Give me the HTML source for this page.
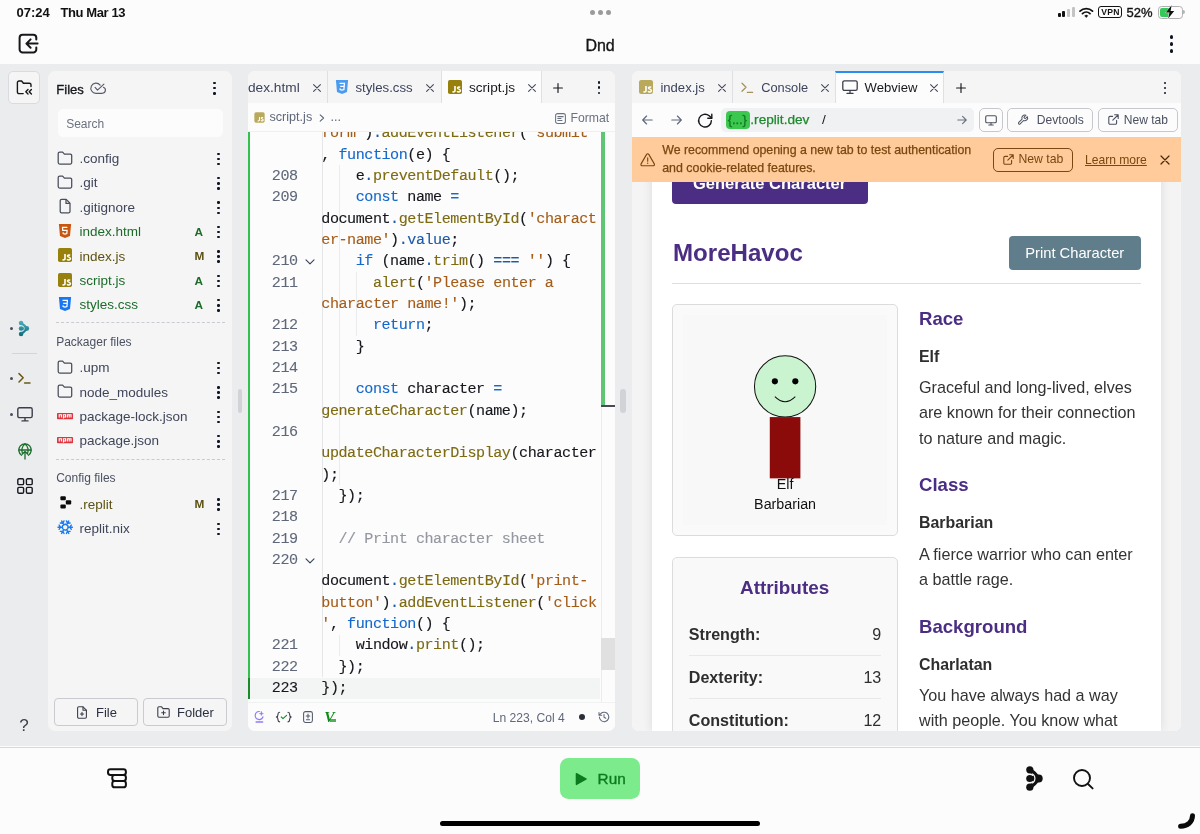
<!DOCTYPE html>
<html><head><meta charset="utf-8">
<style>
*{box-sizing:border-box;margin:0;padding:0}
html,body{width:1200px;height:834px;overflow:hidden;background:#fcfcfc;font-family:"Liberation Sans",sans-serif;color:#0e1525}
.abs{position:absolute}
#root{will-change:transform;position:relative;width:1200px;height:834px;overflow:hidden;background:#fcfcfc}
#ws{left:0;top:64px;width:1200px;height:682px;background:#ebeced}
#bottom{left:0;top:746px;width:1200px;height:88px;background:#fcfcfc;border-top:1px solid #d5d7da}
.t{position:absolute;white-space:nowrap;line-height:1}
svg{position:absolute;overflow:visible}
.md{-webkit-text-stroke:0.35px currentColor}
/* files panel */
#files{left:48px;top:71px;width:184px;height:660px;background:#f5f5f5;border-radius:7px}
.row{position:absolute;left:48px;width:184px;height:24px}
.row .nm{position:absolute;left:31.5px;top:4.5px;font-size:13.5px;line-height:15px;color:#40465a;white-space:nowrap}
.row .st{position:absolute;left:146.4px;top:5.4px;font-size:11.8px;font-weight:bold;line-height:14px}
.row svg.ic{left:9px;top:3.2px}
.kb{position:absolute;width:3px}
.kb i{position:absolute;left:0.05px;width:2.4px;height:2.4px;border-radius:50%;background:#0e1525}
.kb i:nth-child(1){top:0}.kb i:nth-child(2){top:5.1px}.kb i:nth-child(3){top:10.2px}
.g{color:#1c6b2a !important}.ol{color:#5c5212 !important}
.sec{position:absolute;left:56.2px;font-size:12px;line-height:15px;color:#4a5060;white-space:nowrap}
.dash{position:absolute;left:56px;width:169px;height:0;border-top:1px dashed #c9cbd1}
.btn{position:absolute;border:1px solid #c9cbd0;border-radius:4px;background:#f5f5f5}
/* editor */
#editor{left:248px;top:71px;width:367px;height:660px;background:#fcfcfc;border-radius:7px;overflow:hidden}
.code{position:absolute;left:74px;white-space:pre;-webkit-text-stroke:0.12px currentColor;font-family:"Liberation Mono",monospace;font-size:15.1px;letter-spacing:-0.46px;line-height:21.333px;color:#15171c}
.ln{position:absolute;left:0;width:50px;text-align:right;white-space:pre;-webkit-text-stroke:0.1px currentColor;font-family:"Liberation Mono",monospace;font-size:15.1px;letter-spacing:-0.46px;line-height:21.333px;color:#5f677a}
.k{color:#1569cc}.d{color:#1c5aa8}.f{color:#7d6a12}.s{color:#a55c18}.c{color:#9497a0}
/* right */
#right{left:632px;top:71px;width:549px;height:660px;background:#fcfcfc;border-radius:7px;overflow:hidden}
</style></head><body>
<div id="root">
<!-- STATUS BAR -->
<div class="t" style="left:16.5px;top:5.5px;font-size:13px;font-weight:bold;color:#111">07:24</div>
<div class="t" style="left:60.5px;top:5.5px;font-size:13px;font-weight:bold;color:#111;letter-spacing:-0.4px">Thu Mar 13</div>
<div class="abs" style="left:589.5px;top:9.5px;width:5px;height:5px;border-radius:50%;background:#9b9b9b"></div>
<div class="abs" style="left:597.5px;top:9.5px;width:5px;height:5px;border-radius:50%;background:#9b9b9b"></div>
<div class="abs" style="left:605.5px;top:9.5px;width:5px;height:5px;border-radius:50%;background:#9b9b9b"></div>
<!-- signal -->
<div class="abs" style="left:1058px;top:12.5px;width:3px;height:4.5px;border-radius:1px;background:#111"></div>
<div class="abs" style="left:1062.2px;top:11px;width:3px;height:6px;border-radius:1px;background:#111"></div>
<div class="abs" style="left:1067px;top:9px;width:3.2px;height:8px;border-radius:1px;background:#c4c4c6"></div>
<div class="abs" style="left:1071.8px;top:7.2px;width:3.2px;height:9.8px;border-radius:1px;background:#c4c4c6"></div>
<!-- wifi -->
<svg style="left:1079px;top:6.5px" width="14.5" height="11" viewBox="0 0 29 22">
<path d="M2 8.2 A18 18 0 0 1 27 8.2" fill="none" stroke="#111" stroke-width="3.6" stroke-linecap="round"/>
<path d="M7 13.2 A11 11 0 0 1 22 13.2" fill="none" stroke="#111" stroke-width="3.6" stroke-linecap="round"/>
<path d="M11.3 17.5 A5 5 0 0 1 17.7 17.5 L14.5 21 Z" fill="#111" stroke="#111" stroke-width="1"/>
</svg>
<!-- vpn -->
<div class="abs" style="left:1098px;top:6.2px;width:24px;height:11.5px;border:1.3px solid #111;border-radius:3px"></div>
<div class="t" style="left:1101.3px;top:7.9px;font-size:8.6px;font-weight:bold;color:#111;letter-spacing:0.2px">VPN</div>
<div class="t md" style="left:1126.6px;top:5.5px;font-size:13px;color:#111" >52%</div>
<!-- battery -->
<div class="abs" style="left:1158px;top:6.2px;width:24.5px;height:12.4px;border:1px solid #b0b0b3;border-radius:3.6px"></div>
<div class="abs" style="left:1159.8px;top:8px;width:9.5px;height:8.8px;border-radius:2px 0 0 2px;background:#36c759"></div>
<div class="abs" style="left:1183.4px;top:10.2px;width:1.6px;height:4px;border-radius:0 2px 2px 0;background:#b4b4b6"></div>
<svg style="left:1165px;top:5.2px" width="10" height="14" viewBox="0 0 10 14"><path d="M6.6 0.3 L0.8 7.6 L4.4 7.6 L3.2 13.6 L9.2 6 L5.6 6 Z" fill="#111" stroke="#fcfcfc" stroke-width="0.9" paint-order="stroke"/></svg>
<!-- HEADER -->
<svg style="left:18px;top:33px" width="21" height="21" viewBox="0 0 21 21" fill="none" stroke="#17181c" stroke-width="2" stroke-linecap="round" stroke-linejoin="round">
<path d="M18.3 6.6 V4.6 A3 3 0 0 0 15.3 1.8 H4.6 A3 3 0 0 0 1.6 4.8 V16.4 A3 3 0 0 0 4.6 19.4 H15.3 A3 3 0 0 0 18.3 16.4 V14.6"/>
<path d="M19.6 10.6 H8.6 M12.6 6.4 L8.4 10.6 L12.6 14.8"/>
</svg>
<div class="t md" style="left:585.4px;top:38.2px;font-size:16px;color:#151515">Dnd</div>
<div class="abs" style="left:1169.7px;top:35px;width:3.6px;height:3.6px;border-radius:50%;background:#0e1525"></div>
<div class="abs" style="left:1169.7px;top:42px;width:3.6px;height:3.6px;border-radius:50%;background:#0e1525"></div>
<div class="abs" style="left:1169.7px;top:49px;width:3.6px;height:3.6px;border-radius:50%;background:#0e1525"></div>

<div id="ws" class="abs"></div>
<!-- LEFT RAIL -->
<div class="abs" style="left:8.2px;top:71.2px;width:32.2px;height:32.6px;border:1px solid #d9dbdf;border-radius:5px;background:#f5f5f5"></div>
<svg style="left:16px;top:79px" width="17" height="17" viewBox="0 0 17 17" fill="none" stroke="#16181d" stroke-width="1.4" stroke-linecap="round" stroke-linejoin="round"><path d="M7.2 14.6 H3 A1.6 1.6 0 0 1 1.4 13 V3.6 A1.6 1.6 0 0 1 3 2 H5.6 L7.4 4.2 H13.4 A1.6 1.6 0 0 1 15 5.8 V7.6"/><path d="M12 10.6 L9.8 12.8 L12 15 M15.4 10.6 L13.2 12.8 L15.4 15"/></svg>
<div class="abs" style="left:10.2px;top:327px;width:3px;height:3px;border-radius:50%;background:#4a4f5c"></div>
<svg style="left:18.3px;top:320px" width="11.4" height="17" viewBox="0 0 18 27"><defs><linearGradient id="tg" x1="0" y1="0" x2="0" y2="27" gradientUnits="userSpaceOnUse" ><stop offset="0" stop-color="#4fb3c4"/><stop offset="1" stop-color="#0b6776"/></linearGradient></defs><g fill="url(#tg)" stroke="url(#tg)"><circle cx="4.8" cy="4.8" r="3.6" stroke="none"/><circle cx="4.8" cy="22.2" r="3.6" stroke="none"/><circle cx="13.8" cy="13.5" r="3.9" stroke="none"/><path d="M4.8 4.8 Q10 8.6 13.8 13.5 Q10 18.4 4.8 22.2" fill="none" stroke-width="4.2" stroke-linecap="round"/><path d="M6 13.5 H13" fill="none" stroke-width="5"/></g><path d="M6.71 8.77 A5.1 5.1 0 0 1 6.71 18.23" fill="none" stroke="#ebeced" stroke-width="1.2"/><circle cx="4.8" cy="13.5" r="3.6" fill="url(#tg)"/></svg>
<div class="abs" style="left:12px;top:353px;width:25px;height:1px;background:#d3d5d9"></div>
<div class="abs" style="left:10.2px;top:376.6px;width:3px;height:3px;border-radius:50%;background:#4a4f5c"></div>
<svg style="left:18px;top:372px" width="14" height="13" viewBox="0 0 14 13" fill="none" stroke="#6b5a14" stroke-width="1.5" stroke-linecap="round" stroke-linejoin="round"><path d="M1 1.6 L5.2 5.8 L1 10 M6.6 11 H12"/></svg>
<div class="abs" style="left:10.2px;top:413.4px;width:3px;height:3px;border-radius:50%;background:#4a4f5c"></div>
<svg style="left:17px;top:407px" width="16" height="15" viewBox="0 0 16 15" fill="none" stroke="#3b3f4a" stroke-width="1.4" stroke-linecap="round" stroke-linejoin="round"><rect x="0.8" y="0.8" width="14.4" height="9.8" rx="1.6"/><path d="M8 10.8 V13.8 M5 13.9 H11"/></svg>
<svg style="left:17.5px;top:443px" width="14" height="17" viewBox="0 0 14 17" fill="none" stroke="#1b6d2c" stroke-width="1.3" stroke-linecap="round" stroke-linejoin="round"><path d="M3.6 12.2 A6.2 6.2 0 1 1 10.4 12.2"/><path d="M0.9 7 H13.1"/><path d="M4.6 11 C3.2 8 3.6 3.2 7 0.9 C10.4 3.2 10.8 8 9.4 11"/><path d="M7 16 V8.4 M4.6 10.8 L7 8.4 L9.4 10.8"/></svg>
<svg style="left:17px;top:478px" width="16" height="16" viewBox="0 0 16 16" fill="none" stroke="#16181d" stroke-width="1.4" stroke-linejoin="round"><rect x="0.8" y="0.8" width="5.8" height="5.8" rx="1.2"/><rect x="9.4" y="0.8" width="5.8" height="5.8" rx="1.2"/><rect x="0.8" y="9.4" width="5.8" height="5.8" rx="1.2"/><rect x="9.4" y="9.4" width="5.8" height="5.8" rx="1.2"/></svg>
<div class="t" style="left:19.3px;top:716.6px;font-size:17px;color:#3b3f4a">?</div>
<!-- FILES PANEL -->
<div id="files" class="abs"></div>
<div class="t md" style="left:56.3px;top:82.6px;font-size:13px;color:#16181d">Files</div>
<svg style="left:90px;top:82px" width="16" height="13" viewBox="0 0 16 13" fill="none" stroke="#555b6a" stroke-width="1.15" stroke-linecap="round" stroke-linejoin="round"><path d="M10.1 3.2 A5.1 5.1 0 1 0 6.2 11.3 H12.4 A3.1 3.1 0 0 0 13.4 5.3"/><path d="M5.1 5.4 L7.5 8.1 L13.9 2.2"/></svg>
<div class="kb" style="left:213.2px;top:82px"><i></i><i></i><i></i></div>
<div class="abs" style="left:58px;top:109px;width:165px;height:28px;border-radius:5px;background:#fcfcfc"></div>
<div class="t" style="left:66.2px;top:117.6px;font-size:12px;color:#6a7180">Search</div>
<div class="row" style="top:146.4px"><svg class="ic" width="16" height="16" viewBox="0 0 16 16" fill="none" stroke="#484d5c" stroke-width="1.25" stroke-linejoin="round"><path d="M1.2 3.6 A1.5 1.5 0 0 1 2.7 2.1 H5.6 L7.4 4.1 H13.2 A1.5 1.5 0 0 1 14.7 5.6 V12.6 A1.5 1.5 0 0 1 13.2 14.1 H2.7 A1.5 1.5 0 0 1 1.2 12.6 Z"/></svg><span class="nm ">.config</span><div class="kb" style="left:169.3px;top:6.3px"><i></i><i></i><i></i></div></div>
<div class="row" style="top:170.8px"><svg class="ic" width="16" height="16" viewBox="0 0 16 16" fill="none" stroke="#484d5c" stroke-width="1.25" stroke-linejoin="round"><path d="M1.2 3.6 A1.5 1.5 0 0 1 2.7 2.1 H5.6 L7.4 4.1 H13.2 A1.5 1.5 0 0 1 14.7 5.6 V12.6 A1.5 1.5 0 0 1 13.2 14.1 H2.7 A1.5 1.5 0 0 1 1.2 12.6 Z"/></svg><span class="nm ">.git</span><div class="kb" style="left:169.3px;top:6.3px"><i></i><i></i><i></i></div></div>
<div class="row" style="top:195.2px"><svg class="ic" width="16" height="16" viewBox="0 0 16 16" fill="none" stroke="#484d5c" stroke-width="1.25" stroke-linejoin="round"><path d="M3.2 2.8 A1.4 1.4 0 0 1 4.6 1.4 H9.2 L13 5.2 V13.4 A1.4 1.4 0 0 1 11.6 14.8 H4.6 A1.4 1.4 0 0 1 3.2 13.4 Z"/><path d="M9 1.6 V5.4 H12.8"/></svg><span class="nm ">.gitignore</span><div class="kb" style="left:169.3px;top:6.3px"><i></i><i></i><i></i></div></div>
<div class="row" style="top:219.6px"><svg class="ic" width="16" height="16" viewBox="0 0 16 16"><path d="M1.9 0.9 H14.1 L13 13.1 L8 14.9 L3 13.1 Z" fill="#c8560f"/><path d="M10.4 4.4 H5.5 L5.7 7.3 H10.1 L9.8 10.6 L8 11.2 L6.2 10.6 L6.1 9.4" fill="none" stroke="#fff" stroke-width="1.25"/></svg><span class="nm g">index.html</span><span class="st g">A</span><div class="kb" style="left:169.3px;top:6.3px"><i></i><i></i><i></i></div></div>
<div class="row" style="top:244.0px"><svg class="ic" width="16" height="16" viewBox="0 0 16 16"><rect x="1" y="1" width="14" height="14" rx="1.8" fill="#98800c"/><path d="M8 7.1 V11.6 A1.45 1.45 0 0 1 5.5 12.5" fill="none" stroke="#fff" stroke-width="1.6"/><path d="M13.2 8.4 A1.65 1.25 0 0 0 10.5 8.9 C10.5 10.4 13.45 9.9 13.45 11.6 A1.75 1.4 0 0 1 10.1 12.1" fill="none" stroke="#fff" stroke-width="1.5"/></svg><span class="nm ol">index.js</span><span class="st ol">M</span><div class="kb" style="left:169.3px;top:6.3px"><i></i><i></i><i></i></div></div>
<div class="row" style="top:268.4px"><svg class="ic" width="16" height="16" viewBox="0 0 16 16"><rect x="1" y="1" width="14" height="14" rx="1.8" fill="#98800c"/><path d="M8 7.1 V11.6 A1.45 1.45 0 0 1 5.5 12.5" fill="none" stroke="#fff" stroke-width="1.6"/><path d="M13.2 8.4 A1.65 1.25 0 0 0 10.5 8.9 C10.5 10.4 13.45 9.9 13.45 11.6 A1.75 1.4 0 0 1 10.1 12.1" fill="none" stroke="#fff" stroke-width="1.5"/></svg><span class="nm g">script.js</span><span class="st g">A</span><div class="kb" style="left:169.3px;top:6.3px"><i></i><i></i><i></i></div></div>
<div class="row" style="top:292.8px"><svg class="ic" width="16" height="16" viewBox="0 0 16 16"><path d="M1.9 0.9 H14.1 L13 13.1 L8 14.9 L3 13.1 Z" fill="#1877f2"/><path d="M5.5 4.4 H10.4 L10.2 7.3 H6.2 M10.2 7.3 L9.9 10.6 L8 11.2 L6.1 10.6 L6 9.4" fill="none" stroke="#fff" stroke-width="1.25"/></svg><span class="nm g">styles.css</span><span class="st g">A</span><div class="kb" style="left:169.3px;top:6.3px"><i></i><i></i><i></i></div></div>
<div class="row" style="top:355.6px"><svg class="ic" width="16" height="16" viewBox="0 0 16 16" fill="none" stroke="#484d5c" stroke-width="1.25" stroke-linejoin="round"><path d="M1.2 3.6 A1.5 1.5 0 0 1 2.7 2.1 H5.6 L7.4 4.1 H13.2 A1.5 1.5 0 0 1 14.7 5.6 V12.6 A1.5 1.5 0 0 1 13.2 14.1 H2.7 A1.5 1.5 0 0 1 1.2 12.6 Z"/></svg><span class="nm ">.upm</span><div class="kb" style="left:169.3px;top:6.3px"><i></i><i></i><i></i></div></div>
<div class="row" style="top:380.0px"><svg class="ic" width="16" height="16" viewBox="0 0 16 16" fill="none" stroke="#484d5c" stroke-width="1.25" stroke-linejoin="round"><path d="M1.2 3.6 A1.5 1.5 0 0 1 2.7 2.1 H5.6 L7.4 4.1 H13.2 A1.5 1.5 0 0 1 14.7 5.6 V12.6 A1.5 1.5 0 0 1 13.2 14.1 H2.7 A1.5 1.5 0 0 1 1.2 12.6 Z"/></svg><span class="nm ">node_modules</span><div class="kb" style="left:169.3px;top:6.3px"><i></i><i></i><i></i></div></div>
<div class="row" style="top:404.4px"><svg class="ic" width="16" height="16" viewBox="0 0 16 16"><rect x="0" y="5" width="16" height="6.2" rx="0.8" fill="#e0343c"/><g fill="none" stroke="#fff" stroke-width="1.1"><path d="M2.2 9.6 V6.8 H4.4 V9.6"/><path d="M6.4 10.6 V6.8 H8.6 V9 H6.6"/><path d="M10.4 9.6 V6.8 H14 V9.6 M12.2 7 V9.6"/></g></svg><span class="nm ">package-lock.json</span><div class="kb" style="left:169.3px;top:6.3px"><i></i><i></i><i></i></div></div>
<div class="row" style="top:428.8px"><svg class="ic" width="16" height="16" viewBox="0 0 16 16"><rect x="0" y="5" width="16" height="6.2" rx="0.8" fill="#e0343c"/><g fill="none" stroke="#fff" stroke-width="1.1"><path d="M2.2 9.6 V6.8 H4.4 V9.6"/><path d="M6.4 10.6 V6.8 H8.6 V9 H6.6"/><path d="M10.4 9.6 V6.8 H14 V9.6 M12.2 7 V9.6"/></g></svg><span class="nm ">package.json</span><div class="kb" style="left:169.3px;top:6.3px"><i></i><i></i><i></i></div></div>
<div class="row" style="top:492.0px"><svg class="ic" width="16" height="16" viewBox="0 0 16 16" fill="#0a0a0a"><rect x="3.4" y="1.3" width="5.4" height="4" rx="1"/><rect x="8.8" y="5.3" width="5.4" height="4.1" rx="1"/><rect x="3.4" y="9.4" width="5.4" height="4.1" rx="1"/></svg><span class="nm ol">.replit</span><span class="st ol">M</span><div class="kb" style="left:169.3px;top:6.3px"><i></i><i></i><i></i></div></div>
<div class="row" style="top:516.4px"><svg class="ic" width="16" height="16" viewBox="0 0 16 16" fill="none" stroke="#1a7aef" stroke-width="1.35" stroke-linecap="round"><path d="M1.00 7.20 L15.40 7.20 M12.80 7.20 L14.29 9.33 M12.80 7.20 L14.29 5.07 M3.60 7.20 L2.11 5.07 M3.60 7.20 L2.11 9.33 M4.60 0.96 L11.80 13.44 M10.50 11.18 L9.40 13.54 M10.50 11.18 L13.09 11.41 M5.90 3.22 L7.00 0.86 M5.90 3.22 L3.31 2.99 M11.80 0.96 L4.60 13.44 M5.90 11.18 L3.31 11.41 M5.90 11.18 L7.00 13.54 M10.50 3.22 L13.09 2.99 M10.50 3.22 L9.40 0.86 "/><polygon points="10.88,8.75 8.20,10.30 5.52,8.75 5.52,5.65 8.20,4.10 10.88,5.65" fill="#f5f5f5" stroke-width="1.3"/></svg><span class="nm ">replit.nix</span><div class="kb" style="left:169.3px;top:6.3px"><i></i><i></i><i></i></div></div>
<div class="dash" style="top:322px"></div>
<div class="sec" style="top:334.7px">Packager files</div>
<div class="dash" style="top:458.5px"></div>
<div class="sec" style="top:470.6px">Config files</div>
<div class="btn" style="left:54px;top:697.5px;width:84px;height:28.6px"></div>
<div class="btn" style="left:143px;top:697.5px;width:84px;height:28.6px"></div>
<svg style="left:76px;top:705.5px" width="12" height="13" viewBox="0 0 12 13" fill="none" stroke="#3b3f4a" stroke-width="1.1" stroke-linejoin="round" stroke-linecap="round"><path d="M1.6 2 A1.2 1.2 0 0 1 2.8 0.8 H7 L10.4 4.2 V11 A1.2 1.2 0 0 1 9.2 12.2 H2.8 A1.2 1.2 0 0 1 1.6 11 Z"/><path d="M7 1 V4.2 H10.2 M6 6.4 V9.6 M4.4 8 H7.6"/></svg>
<div class="t" style="left:96px;top:705.5px;font-size:13px;color:#2b3040">File</div>
<svg style="left:157px;top:706px" width="13" height="12" viewBox="0 0 13 12" fill="none" stroke="#3b3f4a" stroke-width="1.1" stroke-linejoin="round" stroke-linecap="round"><path d="M0.8 2 A1.2 1.2 0 0 1 2 0.8 H4.6 L6 2.6 H11 A1.2 1.2 0 0 1 12.2 3.8 V10 A1.2 1.2 0 0 1 11 11.2 H2 A1.2 1.2 0 0 1 0.8 10 Z"/><path d="M6.5 5 V8.6 M4.7 6.8 H8.3"/></svg>
<div class="t" style="left:177px;top:705.5px;font-size:13px;color:#2b3040">Folder</div>
<!-- EDITOR -->
<div id="editor" class="abs"></div>
<div class="abs" style="left:237.6px;top:389px;width:4.4px;height:24px;border-radius:3px;background:#d2d3d6"></div>
<div class="abs" style="left:620.4px;top:389px;width:5.6px;height:24px;border-radius:3px;background:#d2d3d6"></div>
<div class="abs" style="left:248px;top:71px;width:367px;height:32.7px;background:#f5f5f5;border-radius:7px 7px 0 0;border-bottom:1px solid #d9dbde"></div>
<div class="abs" style="left:327px;top:71px;width:1px;height:31.7px;background:#dfe0e3"></div>
<div class="abs" style="left:440.5px;top:71px;width:101px;height:32.7px;background:#fcfcfc;border-left:1px solid #dfe0e3;border-right:1px solid #dfe0e3"></div>
<div class="t" style="left:248px;top:80.80px;font-size:13.7px;color:#3c445c">dex.html</div>
<svg style="left:311.8px;top:82.8px" width="10" height="10" viewBox="-5 -5 10 10"><path d="M-3.4 -3.4 L3.4 3.4 M-3.4 3.4 L3.4 -3.4" stroke="#444a5c" stroke-width="1.10" stroke-linecap="round"/></svg>
<svg style="left:334px;top:79px" width="16" height="16" viewBox="0 0 16 16"><path d="M1.9 0.9 H14.1 L13 13.1 L8 14.9 L3 13.1 Z" fill="#4b9bf0"/><path d="M5.5 4.4 H10.4 L10.2 7.3 H6.2 M10.2 7.3 L9.9 10.6 L8 11.2 L6.1 10.6 L6 9.4" fill="none" stroke="#fff" stroke-width="1.25"/></svg>
<div class="t" style="left:355.5px;top:81.23px;font-size:13.2px;color:#3c445c">styles.css</div>
<svg style="left:425.0px;top:82.8px" width="10" height="10" viewBox="-5 -5 10 10"><path d="M-3.4 -3.4 L3.4 3.4 M-3.4 3.4 L3.4 -3.4" stroke="#444a5c" stroke-width="1.10" stroke-linecap="round"/></svg>
<svg style="left:447px;top:79.2px" width="16" height="16" viewBox="0 0 16 16"><rect x="1" y="1" width="14" height="14" rx="1.8" fill="#98800c"/><path d="M8 7.1 V11.6 A1.45 1.45 0 0 1 5.5 12.5" fill="none" stroke="#fff" stroke-width="1.6"/><path d="M13.2 8.4 A1.65 1.25 0 0 0 10.5 8.9 C10.5 10.4 13.45 9.9 13.45 11.6 A1.75 1.4 0 0 1 10.1 12.1" fill="none" stroke="#fff" stroke-width="1.5"/></svg>
<div class="t" style="left:469px;top:80.89px;font-size:13.6px;color:#16181d">script.js</div>
<svg style="left:527.3px;top:82.8px" width="10" height="10" viewBox="-5 -5 10 10"><path d="M-3.4 -3.4 L3.4 3.4 M-3.4 3.4 L3.4 -3.4" stroke="#444a5c" stroke-width="1.10" stroke-linecap="round"/></svg>
<svg style="left:553.3px;top:82.8px" width="10" height="10" viewBox="0 0 10 10"><path d="M5 0.6 V9.4 M0.6 5 H9.4" stroke="#16181d" stroke-width="1.15" stroke-linecap="round"/></svg>
<div class="kb" style="left:597.7px;top:81.4px"><i></i><i></i><i></i></div>
<div class="abs" style="left:248px;top:103px;width:367px;height:28.5px;background:#fcfcfc;border-bottom:1px solid #eff0f2"></div>
<svg style="left:254px;top:111.9px" width="11" height="11" viewBox="0 0 16 16"><rect x="0.5" y="0.5" width="15" height="15" rx="2.4" fill="#b9a95c"/><path d="M8 7.1 V11.6 A1.45 1.45 0 0 1 5.5 12.5" fill="none" stroke="#fff" stroke-width="1.6"/><path d="M13.2 8.4 A1.65 1.25 0 0 0 10.5 8.9 C10.5 10.4 13.45 9.9 13.45 11.6 A1.75 1.4 0 0 1 10.1 12.1" fill="none" stroke="#fff" stroke-width="1.5"/></svg>
<div class="t" style="left:269.5px;top:111.33px;font-size:12.6px;color:#5f677a">script.js</div>
<svg style="left:318.5px;top:113.6px" width="6" height="8" viewBox="0 0 6 8"><path d="M1.2 0.8 L4.6 4 L1.2 7.2" fill="none" stroke="#5f677a" stroke-width="1.1" stroke-linecap="round" stroke-linejoin="round"/></svg>
<div class="t" style="left:330.5px;top:111.33px;font-size:12.6px;color:#5f677a">...</div>
<svg style="left:555px;top:112.5px" width="11" height="11" viewBox="0 0 11 11" fill="none" stroke="#6a7180" stroke-width="1.05" stroke-linecap="round"><rect x="0.6" y="0.6" width="9.8" height="9.8" rx="2"/><path d="M2.8 3.6 H8.2 M2.8 5.5 H6 M2.8 7.4 H7"/></svg>
<div class="t" style="left:570.5px;top:111.67px;font-size:12.2px;color:#6a7180">Format</div>
<div class="abs" style="left:248px;top:131.5px;width:367px;height:570.6px;overflow:hidden;background:#fcfcfc">
<div class="abs" style="left:0;top:546.02px;width:352px;height:21.2px;background:#f3f4f4"></div>
<div class="abs" style="left:74.0px;top:-8.95px;width:1px;height:554.67px;background:#e5e6e8"></div>
<div class="abs" style="left:91.2px;top:33.72px;width:1px;height:320.00px;background:#ebecee"></div>
<div class="abs" style="left:108.4px;top:140.38px;width:1px;height:64.00px;background:#ebecee"></div>
<div class="abs" style="left:91.2px;top:503.05px;width:1px;height:21.33px;background:#ebecee"></div>
<div class="abs" style="left:352.6px;top:0;width:1px;height:600px;background:#ececee"></div>
<div class="abs" style="left:353px;top:0;width:4px;height:273.3px;background:#5ec574"></div>
<div class="abs" style="left:353px;top:273.1px;width:14px;height:2px;background:#4a4a55"></div>
<div class="abs" style="left:353px;top:506.5px;width:14px;height:32px;background:#e0e0e0"></div>
<div class="abs" style="left:0;top:0;width:2.2px;height:546.0px;background:#30c24c"></div>
<div class="abs" style="left:0;top:546.0px;width:2.2px;height:21.2px;background:#1a8a2c"></div>
<div class="code" style="left:73.3px;top:-8.05px"><span class="s">form'</span>)<span class="d">.</span><span class="f">addEventListener</span>(<span class="s">'submit'</span>
, <span class="k">function</span>(e) {
    e<span class="d">.</span><span class="f">preventDefault</span>();
    <span class="k">const</span> name <span class="k">=</span> 
document<span class="d">.</span><span class="f">getElementById</span>(<span class="s">'charact</span>
<span class="s">er-name'</span>)<span class="d">.</span><span class="d">value</span>;
    <span class="k">if</span> (name<span class="d">.</span><span class="f">trim</span>() <span class="d">===</span> <span class="s">''</span>) {
      <span class="f">alert</span>(<span class="s">'Please enter a </span>
<span class="s">character name!'</span>);
      <span class="k">return</span>;
    }

    <span class="k">const</span> character <span class="k">=</span> 
<span class="f">generateCharacter</span>(name);

<span class="f">updateCharacterDisplay</span>(character
);
  });

  <span class="c">// Print character sheet</span>

document<span class="d">.</span><span class="f">getElementById</span>(<span class="s">'print-</span>
<span class="s">button'</span>)<span class="d">.</span><span class="f">addEventListener</span>(<span class="s">'click</span>
<span class="s">'</span>, <span class="k">function</span>() {
    window<span class="d">.</span><span class="f">print</span>();
  });
});</div>
<div class="ln" style="left:0;width:49.6px;top:-8.05px">

208
209


210
211

212
213
214
215

216


217
218
219
220



221
222
<span style="color:#16181d">223</span></div>
<svg style="left:57px;top:127.65px" width="10" height="6" viewBox="0 0 10 6"><path d="M1 0.8 L5 4.8 L9 0.8" fill="none" stroke="#3c445c" stroke-width="1.15" stroke-linecap="round" stroke-linejoin="round"/></svg>
<svg style="left:57px;top:426.32px" width="10" height="6" viewBox="0 0 10 6"><path d="M1 0.8 L5 4.8 L9 0.8" fill="none" stroke="#3c445c" stroke-width="1.15" stroke-linecap="round" stroke-linejoin="round"/></svg>
</div>
<div class="abs" style="left:248px;top:702px;width:367px;height:29px;background:#fcfcfc;border-radius:0 0 7px 7px"></div>
<div class="abs" style="left:248px;top:702px;width:367px;height:1px;background:#f0f1f2"></div>
<svg style="left:254px;top:710px" width="11" height="14" viewBox="0 0 11 14" fill="none" stroke="#8f7cf8" stroke-linecap="round"><path d="M5.4 1.5 A4 4 0 1 0 9 6.8" stroke-width="1.15"/><path d="M2.2 12 H8.6" stroke-width="1.6"/><path d="M7.4 1.6 L7.9 3.1 L9.4 3.6 L7.9 4.1 L7.4 5.6 L6.9 4.1 L5.4 3.6 L6.9 3.1 Z" fill="#8f7cf8" stroke-width="0.5" stroke-linejoin="round"/></svg>
<svg style="left:275px;top:711px" width="18" height="12" viewBox="0 0 18 12" fill="none" stroke-linecap="round" stroke-linejoin="round"><path d="M4.6 1.2 C3 1.2 3 2 3 3.2 C3 4.6 3 5.6 1.4 6 C3 6.4 3 7.4 3 8.8 C3 10 3 10.8 4.6 10.8" stroke="#3b3f4a" stroke-width="1.15"/><path d="M13 1.2 C14.6 1.2 14.6 2 14.6 3.2 C14.6 4.6 14.6 5.6 16.2 6 C14.6 6.4 14.6 7.4 14.6 8.8 C14.6 10 14.6 10.8 13 10.8" stroke="#3b3f4a" stroke-width="1.15"/><path d="M6.3 6 L8 7.6 L11.6 4.4" stroke="#1b8a2c" stroke-width="1.15"/></svg>
<svg style="left:303px;top:711px" width="10" height="12" viewBox="0 0 10 12" fill="none" stroke="#555b6a" stroke-width="1.05" stroke-linecap="round" stroke-linejoin="round"><rect x="0.6" y="0.6" width="8.8" height="10.8" rx="1.9"/><path d="M5 3 V7 M3.2 5 H6.8 M3.4 8.7 H6.6"/></svg>
<div class="t" style="left:324.2px;top:709.3px;font-size:15.5px;font-weight:bold;font-style:italic;color:#0f8a1a;font-family:'Liberation Serif',serif">V</div>
<div class="abs" style="left:330.4px;top:719.4px;width:5.8px;height:2.6px;background:#0f8a1a;opacity:.7"></div>
<div class="t" style="left:492.8px;top:711.96px;font-size:12.1px;color:#5f677a">Ln 223, Col 4</div>
<div class="abs" style="left:578.9px;top:713.8px;width:6px;height:6px;border-radius:50%;background:#2b2e38"></div>
<svg style="left:597.5px;top:711.2px" width="12" height="12" viewBox="0 0 12 12" fill="none" stroke="#5f677a" stroke-width="1.05" stroke-linecap="round" stroke-linejoin="round"><path d="M1.4 6 A4.7 4.7 0 1 0 2.9 2.5 L1.2 4.2 M1 1.6 V4.3 H3.7"/><path d="M6 3.6 V6.2 L7.8 7.2"/></svg>
<!-- RIGHT PANEL -->
<div id="right" class="abs">
<div class="abs" style="left:0.0px;top:66.0px;width:549px;height:594px;background:#f4f4f4"></div>
<div class="abs" style="left:20.0px;top:66.0px;width:509.4px;height:594px;background:#fff;box-shadow:0 0 10px rgba(0,0,0,0.1)"></div>
<div class="abs" style="left:40.0px;top:89.0px;width:196px;height:43.5px;background:#4b2e83;border-radius:4px"></div>
<div class="t" style="left:61.00px;top:104.03px;font-size:16.50px;color:#fff;font-weight:bold">Generate Character</div>
<div class="t" style="left:41.00px;top:169.80px;font-size:24.10px;color:#4b2e83;font-weight:bold">MoreHavoc</div>
<div class="abs" style="left:376.9px;top:165.0px;width:132px;height:34.4px;background:#607d8b;border-radius:4px"></div>
<div class="t" style="left:393.20px;top:174.92px;font-size:14.74px;color:#fff;">Print Character</div>
<div class="abs" style="left:40.0px;top:211.5px;width:469px;height:1.3px;background:#dedede"></div>
<div class="abs" style="left:40.2px;top:232.8px;width:225.6px;height:232.6px;background:#fafafa;border:1px solid #dcdcdc;border-radius:5px"></div>
<div class="abs" style="left:51.0px;top:243.6px;width:204.2px;height:210.6px;background:#f8f8f8"></div>
<svg style="left:50.9px;top:243.5px" width="204.2" height="204.2" viewBox="0 0 200 200"><circle cx="100" cy="70" r="30" fill="#c9f4cf" stroke="#111" stroke-width="1"/><circle cx="90" cy="65" r="3" fill="#000"/><circle cx="110" cy="65" r="3" fill="#000"/><path d="M90 80 Q100 90 110 80" fill="none" stroke="#111" stroke-width="1"/><rect x="85" y="100" width="30" height="60" fill="#8b0a0a"/><text x="100" y="170" text-anchor="middle" font-family="Liberation Sans, sans-serif" font-size="14" fill="#111">Elf</text><text x="100" y="190" text-anchor="middle" font-family="Liberation Sans, sans-serif" font-size="14" fill="#111">Barbarian</text></svg>
<div class="abs" style="left:40.2px;top:486.0px;width:225.6px;height:200px;background:#f9f9f9;border:1px solid #dcdcdc;border-radius:5px"></div>
<div class="t" style="left:108.00px;top:508.20px;font-size:18.90px;color:#4b2e83;font-weight:bold">Attributes</div>
<div class="t" style="left:56.80px;top:554.97px;font-size:16.10px;color:#2e2e2e;font-weight:bold">Strength:</div>
<div class="t" style="left:199.30px;top:554.97px;font-size:16.10px;color:#2e2e2e;width:50px;text-align:right">9</div>
<div class="abs" style="left:56.8px;top:583.9px;width:192.6px;height:1.2px;background:#e8e8e8"></div>
<div class="t" style="left:56.80px;top:597.82px;font-size:16.10px;color:#2e2e2e;font-weight:bold">Dexterity:</div>
<div class="t" style="left:199.30px;top:597.82px;font-size:16.10px;color:#2e2e2e;width:50px;text-align:right">13</div>
<div class="abs" style="left:56.8px;top:626.9px;width:192.6px;height:1.2px;background:#e8e8e8"></div>
<div class="t" style="left:56.80px;top:640.67px;font-size:16.10px;color:#2e2e2e;font-weight:bold">Constitution:</div>
<div class="t" style="left:199.30px;top:640.67px;font-size:16.10px;color:#2e2e2e;width:50px;text-align:right">12</div>
<div class="t" style="left:287.00px;top:238.56px;font-size:18.60px;color:#4b2e83;font-weight:bold">Race</div>
<div class="t" style="left:287.00px;top:277.54px;font-size:15.90px;color:#2e2e2e;font-weight:bold">Elf</div>
<div class="t" style="left:287.00px;top:307.51px;font-size:16.17px;color:#333;">Graceful and long-lived, elves</div>
<div class="t" style="left:287.00px;top:333.11px;font-size:16.17px;color:#333;">are known for their connection</div>
<div class="t" style="left:287.00px;top:358.71px;font-size:16.17px;color:#333;">to nature and magic.</div>
<div class="t" style="left:287.00px;top:405.26px;font-size:18.60px;color:#4b2e83;font-weight:bold">Class</div>
<div class="t" style="left:287.00px;top:444.24px;font-size:15.90px;color:#2e2e2e;font-weight:bold">Barbarian</div>
<div class="t" style="left:287.00px;top:474.51px;font-size:16.17px;color:#333;">A fierce warrior who can enter</div>
<div class="t" style="left:287.00px;top:500.11px;font-size:16.17px;color:#333;">a battle rage.</div>
<div class="t" style="left:287.00px;top:546.66px;font-size:18.60px;color:#4b2e83;font-weight:bold">Background</div>
<div class="t" style="left:287.00px;top:585.64px;font-size:15.90px;color:#2e2e2e;font-weight:bold">Charlatan</div>
<div class="t" style="left:287.00px;top:615.91px;font-size:16.17px;color:#333;">You have always had a way</div>
<div class="t" style="left:287.00px;top:641.41px;font-size:16.17px;color:#333;">with people. You know what</div>
<div class="abs" style="left:0;top:0;width:549px;height:32.7px;background:#f5f5f5;border-bottom:1px solid #d9dbde"></div>
<svg style="left:6.0px;top:8.2px" width="16" height="16" viewBox="0 0 16 16"><rect x="1" y="1" width="14" height="14" rx="2.2" fill="#b9a95c"/><path d="M8 7.1 V11.6 A1.45 1.45 0 0 1 5.5 12.5" fill="none" stroke="#fff" stroke-width="1.6"/><path d="M13.2 8.4 A1.65 1.25 0 0 0 10.5 8.9 C10.5 10.4 13.45 9.9 13.45 11.6 A1.75 1.4 0 0 1 10.1 12.1" fill="none" stroke="#fff" stroke-width="1.5"/></svg>
<div class="t" style="left:28.40px;top:10.31px;font-size:13.10px;color:#3c445c;">index.js</div>
<svg style="left:85.0px;top:11.8px" width="10" height="10" viewBox="-5 -5 10 10"><path d="M-3.4 -3.4 L3.4 3.4 M-3.4 3.4 L3.4 -3.4" stroke="#444a5c" stroke-width="1.10" stroke-linecap="round"/></svg>
<div class="abs" style="left:100.3px;top:0.0px;width:1px;height:31.7px;background:#dfe0e3"></div>
<svg style="left:108.6px;top:10.6px" width="13" height="12" viewBox="0 0 13 12" fill="none" stroke="#a3935a" stroke-width="1.3" stroke-linecap="round" stroke-linejoin="round"><path d="M1 1.2 L5 5.2 L1 9.2 M6.4 10.4 H11.6"/></svg>
<div class="t" style="left:129.20px;top:10.56px;font-size:12.80px;color:#3c445c;">Console</div>
<svg style="left:188.3px;top:11.8px" width="10" height="10" viewBox="-5 -5 10 10"><path d="M-3.4 -3.4 L3.4 3.4 M-3.4 3.4 L3.4 -3.4" stroke="#444a5c" stroke-width="1.10" stroke-linecap="round"/></svg>
<div class="abs" style="left:203.3px;top:0.0px;width:109px;height:32.7px;background:#fcfcfc;border-left:1px solid #dfe0e3;border-right:1px solid #dfe0e3;border-top:2px solid #2b8cf0"></div>
<svg style="left:210.4px;top:9.0px" width="16" height="15" viewBox="0 0 16 15" fill="none" stroke="#3b3f4a" stroke-width="1.3" stroke-linecap="round" stroke-linejoin="round"><rect x="0.8" y="0.8" width="14.4" height="9.6" rx="1.6"/><path d="M8 10.6 V13.2 M5 13.4 H11"/></svg>
<div class="t" style="left:232.60px;top:10.31px;font-size:13.10px;color:#16181d;">Webview</div>
<svg style="left:297.2px;top:11.8px" width="10" height="10" viewBox="-5 -5 10 10"><path d="M-3.4 -3.4 L3.4 3.4 M-3.4 3.4 L3.4 -3.4" stroke="#444a5c" stroke-width="1.10" stroke-linecap="round"/></svg>
<svg style="left:323.8px;top:11.8px" width="10" height="10" viewBox="0 0 10 10"><path d="M5 0.6 V9.4 M0.6 5 H9.4" stroke="#16181d" stroke-width="1.15" stroke-linecap="round"/></svg>
<div class="kb" style="left:531.9px;top:10.5px"><i></i><i></i><i></i></div>
<div class="abs" style="left:0.0px;top:32.0px;width:549px;height:34px;background:#fcfcfc"></div>
<svg style="left:10.3px;top:44.2px" width="11" height="10" viewBox="0 0 11 10" fill="none" stroke="#5f677a" stroke-width="1.15" stroke-linecap="round" stroke-linejoin="round"><path d="M10.2 5 H0.8 M4.6 1 L0.7 5 L4.6 9"/></svg>
<svg style="left:39.0px;top:44.2px" width="11" height="10" viewBox="0 0 11 10" fill="none" stroke="#5f677a" stroke-width="1.15" stroke-linecap="round" stroke-linejoin="round"><path d="M0.8 5 H10.2 M6.4 1 L10.3 5 L6.4 9"/></svg>
<svg style="left:65.4px;top:41.6px" width="16" height="15" viewBox="0 0 16 15" fill="none" stroke="#16181d" stroke-width="1.4" stroke-linecap="round" stroke-linejoin="round"><path d="M14.4 7.6 A6.4 6.4 0 1 1 12.2 2.8 L14.6 5"/><path d="M14.8 1.2 V5.2 H10.8"/></svg>
<div class="abs" style="left:89.3px;top:37.2px;width:253px;height:24px;background:#f0f1f2;border-radius:5px"></div>
<div class="abs" style="left:94.2px;top:40.4px;width:24px;height:17.4px;background:#3cc84e;border-radius:4px"></div>
<div class="t md" style="left:95.80px;top:42.43px;font-size:13.20px;color:#157a26;letter-spacing:-0.15px">{...}</div>
<div class="t" style="left:118.30px;top:42.25px;font-size:13.65px;color:#1b8a2c;-webkit-text-stroke:0.25px #1b8a2c">.replit.dev</div>
<div class="t" style="left:190.00px;top:42.25px;font-size:13.65px;color:#16181d;">/</div>
<svg style="left:325.0px;top:44.2px" width="11" height="10" viewBox="0 0 11 10" fill="none" stroke="#6a7180" stroke-width="1.15" stroke-linecap="round" stroke-linejoin="round"><path d="M0.8 5 H9 M5.6 1.4 L9.2 5 L5.6 8.6"/></svg>
<div class="abs" style="left:347.2px;top:37.0px;width:24.0px;height:24px;border:1px solid #c6c8cd;border-radius:5px;background:#fcfcfc"></div>
<div class="abs" style="left:375.4px;top:37.0px;width:86.0px;height:24px;border:1px solid #c6c8cd;border-radius:5px;background:#fcfcfc"></div>
<div class="abs" style="left:466.0px;top:37.0px;width:79.6px;height:24px;border:1px solid #c6c8cd;border-radius:5px;background:#fcfcfc"></div>
<svg style="left:353.2px;top:43.6px" width="12" height="11" viewBox="0 0 12 11" fill="none" stroke="#4a5060" stroke-width="1.1" stroke-linecap="round" stroke-linejoin="round"><rect x="0.7" y="0.7" width="10.6" height="7" rx="1.3"/><path d="M6 7.9 V9.8 M3.8 10 H8.2"/></svg>
<svg style="left:384.8px;top:42.8px" width="11.6" height="11.6" viewBox="0 0 24 24" fill="none" stroke="#4f5561" stroke-width="2.1" stroke-linecap="round" stroke-linejoin="round"><path d="M14.7 6.3a1 1 0 0 0 0 1.4l1.6 1.6a1 1 0 0 0 1.4 0l3.77-3.77a6 6 0 0 1-7.94 7.94l-6.91 6.91a2.12 2.12 0 0 1-3-3l6.91-6.91a6 6 0 0 1 7.94-7.94l-3.76 3.76z"/></svg>
<div class="t" style="left:404.80px;top:42.76px;font-size:12.10px;color:#4a5060;">Devtools</div>
<svg style="left:475.6px;top:43.4px" width="11" height="11" viewBox="0 0 11 11" fill="none" stroke="#4a5060" stroke-width="1.1" stroke-linecap="round" stroke-linejoin="round"><path d="M8.6 6.4 V9 A1.2 1.2 0 0 1 7.4 10.2 H2 A1.2 1.2 0 0 1 0.8 9 V3.6 A1.2 1.2 0 0 1 2 2.4 H4.6"/><path d="M6.6 0.8 H10.2 V4.4 M10 1 L4.8 6.2"/></svg>
<div class="t" style="left:491.80px;top:42.80px;font-size:12.05px;color:#4a5060;">New tab</div>
<div class="abs" style="left:0.0px;top:66.2px;width:549px;height:44.6px;background:#ffcb9a"></div>
<svg style="left:8.2px;top:81.7px" width="15.4" height="13.6" viewBox="0 0 17 15" fill="none" stroke="#7a4710" stroke-width="1.25" stroke-linecap="round" stroke-linejoin="round"><path d="M7.3 1.5 A1.4 1.4 0 0 1 9.7 1.5 L15.8 12 A1.4 1.4 0 0 1 14.6 14.1 H2.4 A1.4 1.4 0 0 1 1.2 12 Z"/><path d="M8.5 5.4 V9"/><path d="M8.5 11.3 V11.4" stroke-width="1.5"/></svg>
<div class="t" style="left:30.20px;top:73.33px;font-size:12.37px;color:#7a4710;-webkit-text-stroke:0.25px #7a4710">We recommend opening a new tab to test authentication</div>
<div class="t" style="left:30.20px;top:91.30px;font-size:12.40px;color:#7a4710;-webkit-text-stroke:0.25px #7a4710">and cookie-related features.</div>
<div class="abs" style="left:361.2px;top:76.6px;width:79.6px;height:24px;border:1px solid #7a4710;border-radius:5px"></div>
<svg style="left:370.8px;top:83.0px" width="11" height="11" viewBox="0 0 11 11" fill="none" stroke="#7a4710" stroke-width="1.1" stroke-linecap="round" stroke-linejoin="round"><path d="M8.6 6.4 V9 A1.2 1.2 0 0 1 7.4 10.2 H2 A1.2 1.2 0 0 1 0.8 9 V3.6 A1.2 1.2 0 0 1 2 2.4 H4.6"/><path d="M6.6 0.8 H10.2 V4.4 M10 1 L4.8 6.2"/></svg>
<div class="t" style="left:386.40px;top:82.43px;font-size:12.25px;color:#7a4710;">New tab</div>
<div class="t" style="left:453.00px;top:82.56px;font-size:12.10px;color:#7a4710;text-decoration:underline">Learn more</div>
<svg style="left:528.2px;top:83.8px" width="10" height="10" viewBox="-5 -5 10 10"><path d="M-4.0 -4.0 L4.0 4.0 M-4.0 4.0 L4.0 -4.0" stroke="#4a2a08" stroke-width="1.20" stroke-linecap="round"/></svg>
</div>
<!-- BOTTOM BAR -->
<div id="bottom" class="abs" style="top:747px;height:87px"></div>
<svg style="left:100px;top:760px" width="34" height="34" viewBox="100 760 34 34" fill="none" stroke="#111" stroke-width="2" stroke-linejoin="round"><rect x="108" y="769.3" width="17.9" height="5.6" rx="2.4"/><rect x="112.3" y="774.9" width="13.6" height="6" rx="2.4"/><rect x="112.3" y="780.9" width="13.6" height="6.4" rx="2.4"/></svg>
<div class="abs" style="left:560.2px;top:757.9px;width:79.6px;height:40.9px;border-radius:8.5px;background:#7beb8c"></div>
<svg style="left:575px;top:771.5px" width="13" height="14" viewBox="0 0 13 14"><path d="M1.4 1.6 L11.2 7 L1.4 12.4 Z" fill="#0c7a1f" stroke="#0c7a1f" stroke-width="1.4" stroke-linejoin="round"/></svg>
<div class="t md" style="left:597.6px;top:770.85px;font-size:15.3px;color:#0c7a1f">Run</div>
<svg style="left:1025px;top:765px" width="18" height="27" viewBox="0 0 18 27"><g fill="#111" stroke="#111"><circle cx="4.8" cy="4.8" r="3.6" stroke="none"/><circle cx="4.8" cy="22.2" r="3.6" stroke="none"/><circle cx="13.8" cy="13.5" r="3.9" stroke="none"/><path d="M4.8 4.8 Q10 8.6 13.8 13.5 Q10 18.4 4.8 22.2" fill="none" stroke-width="4.2" stroke-linecap="round"/><path d="M6 13.5 H13" fill="none" stroke-width="5"/></g><path d="M6.71 8.77 A5.1 5.1 0 0 1 6.71 18.23" fill="none" stroke="#fcfcfc" stroke-width="1.2"/><circle cx="4.8" cy="13.5" r="3.6" fill="#111"/></svg>
<svg style="left:1072px;top:767.5px" width="22" height="22" viewBox="0 0 22 22" fill="none" stroke="#111" stroke-width="1.9" stroke-linecap="round"><circle cx="10" cy="10" r="8"/><path d="M16 16 L20.6 20.4"/></svg>
<div class="abs" style="left:440px;top:821px;width:320px;height:5.4px;border-radius:3px;background:#000"></div>
<svg style="left:1170px;top:804px" width="30" height="30" viewBox="1170 804 30 30"><path d="M1180.6 826.2 C1187.6 826.2 1192.4 822 1192.5 815.8" fill="none" stroke="#0a0a0a" stroke-width="5" stroke-linecap="round"/></svg>
</div>
</body></html>
